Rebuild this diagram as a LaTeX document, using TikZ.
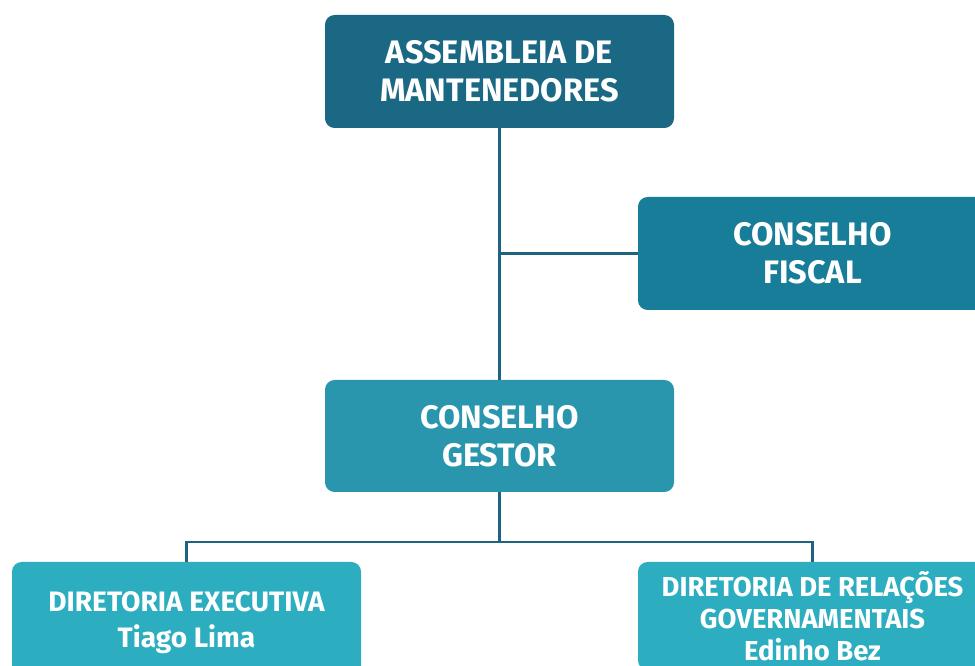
\documentclass[tikz,border=0pt]{standalone}
\usepackage{fontspec}
\setmainfont{Fira Sans}
\usepackage{tikz}
\usepackage{xcolor}
\definecolor{topblue}{HTML}{1B6885}
\definecolor{fiscalblue}{HTML}{187D98}
\definecolor{midblue}{HTML}{2A96AE}
\definecolor{lowblue}{HTML}{2CADC0}
\definecolor{linkblue}{HTML}{1E6481}

\tikzset{
  orgbox/.style={rounded corners=5.5pt,minimum width=349*0.02cm,
    text=white,font=\bfseries\fontsize{18.5}{21.5}\selectfont,align=center,inner sep=0pt},
  lowbox/.style={orgbox,font=\bfseries\fontsize{16}{20.4}\selectfont},
  link/.style={linkblue,line width=1.4pt}
}

\begin{document}
\begin{tikzpicture}[x=0.02cm,y=0.02cm]
        \useasboundingbox (0,0) rectangle (975,666);
        \clip (0,0) rectangle (975,666);

        % boxes
        \node[orgbox,fill=topblue,minimum height=113*0.02cm] (asm) at (499.5,594.5)
          {ASSEMBLEIA DE\\MANTENEDORES};
        \node[orgbox,fill=fiscalblue,minimum height=113*0.02cm] (fiscal) at (812.5,412.5)
          {CONSELHO\\FISCAL};
        \node[orgbox,fill=midblue,minimum height=112*0.02cm] (gestor) at (499.5,230)
          {CONSELHO\\GESTOR};
        \node[lowbox,fill=lowblue,minimum height=121*0.02cm] (direx) at (186.5,43.5)
          {DIRETORIA EXECUTIVA\\Tiago Lima};
        \node[lowbox,fill=lowblue,minimum height=108*0.02cm,
          font=\bfseries\fontsize{15.6}{18.4}\selectfont] (dirrel) at (812.5,50)
          {DIRETORIA DE RELAÇÕES\\GOVERNAMENTAIS\\Edinho Bez};

        % links
        \draw[link] (asm.south) -- (gestor.north);
        \draw[link] (fiscal.west) -- (fiscal.west -| asm.south);
        \coordinate (split) at (499.5,124);
        \draw[link] (gestor.south) -- (split);
        \draw[link] (direx.north) |- (split) -| (dirrel.north);
    \end{tikzpicture}
\end{document}
